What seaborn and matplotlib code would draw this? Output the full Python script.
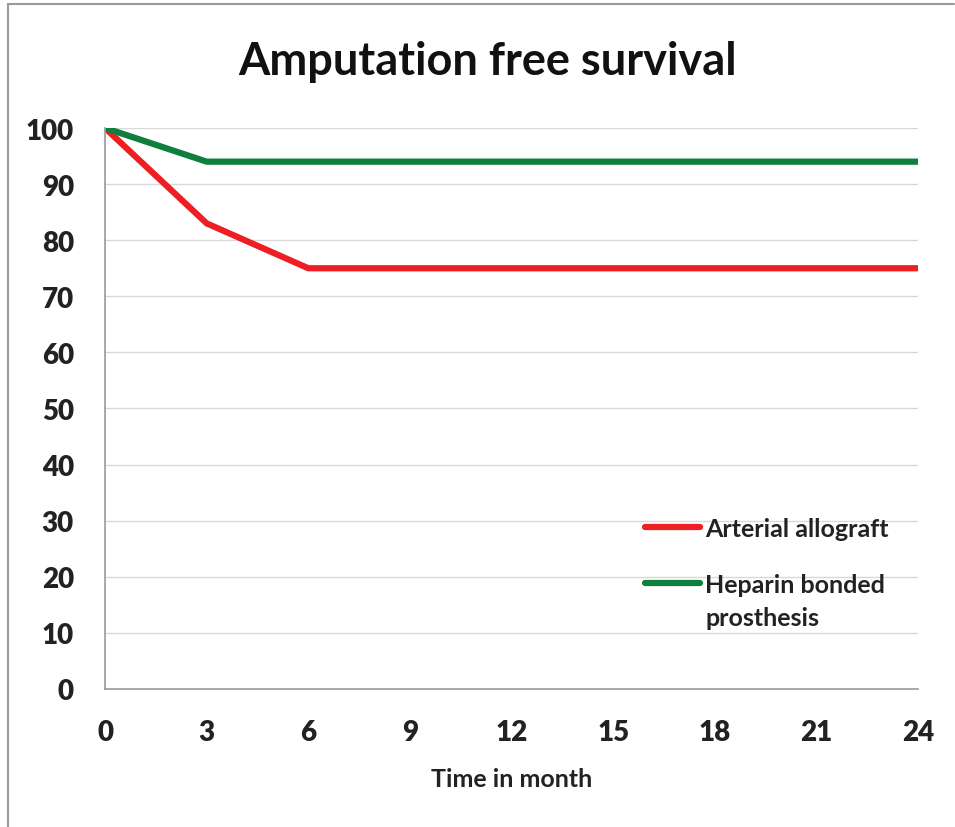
import numpy as np
import pandas as pd
import matplotlib
matplotlib.use("Agg")
import matplotlib.pyplot as plt
import seaborn as sns
from matplotlib.lines import Line2D

# data
months = [0, 3, 6, 9, 12, 15, 18, 21, 24]
allograft = [100, 83, 75, 75, 75, 75, 75, 75, 75]
heparin = [100, 94, 94, 94, 94, 94, 94, 94, 94]
series_names = ["Arterial allograft", "Heparin bonded\nprosthesis"]
colors = ["#ee1f24", "#0e7f3c"]

df = pd.DataFrame({
    "month": months * 2,
    "survival": allograft + heparin,
    "group": [series_names[0]] * len(months) + [series_names[1]] * len(months),
})

sns.set_theme(style="white")
plt.rcParams["font.family"] = ["Lato", "DejaVu Sans"]
plt.rcParams["font.weight"] = "bold"

fig = plt.figure(figsize=(9.55, 8.28), dpi=100)
ax = fig.add_axes([0.110, 0.1667, 0.8513, 0.6775])

sns.lineplot(data=df, x="month", y="survival", hue="group",
             palette=dict(zip(series_names, colors)), linewidth=4.5,
             ax=ax, legend=False)

ax.set_xlim(0, 24)
ax.set_ylim(0, 100)
ax.set_xticks(range(0, 25, 3))
ax.set_yticks(range(0, 101, 10))
ax.yaxis.grid(True, color="#d9d9d9", linewidth=1)
ax.xaxis.grid(False)
for s in ["top", "right"]:
    ax.spines[s].set_visible(False)
for s in ["left", "bottom"]:
    ax.spines[s].set_color("#9a9a9a")
    ax.spines[s].set_linewidth(1.2)
ax.tick_params(axis="both", which="major", direction="out", length=6.5, width=1.2,
               color="#9a9a9a", labelsize=20, labelcolor="#222222")
ax.tick_params(axis="y", pad=16)
ax.tick_params(axis="x", pad=15)
for lab in ax.get_xticklabels() + ax.get_yticklabels():
    lab.set_fontweight("heavy")
ax.set_xlabel("Time in month", fontsize=18, fontweight="bold", color="#222222", labelpad=16)
ax.set_ylabel("")

fig.text(0.511, 0.925, "Amputation free survival", ha="center", va="center",
         fontsize=32.5, fontweight="bold", color="#111111")

# legend drawn by hand so the handle sits on the first line of a wrapped label
leg_y = [0.289, 0.189]
text_y = [0.289, 0.170]
for name, c, y, ty in zip(series_names, colors, leg_y, text_y):
    ax.add_line(Line2D([0.664, 0.732], [y, y], color=c, linewidth=4.5,
                       solid_capstyle="round", transform=ax.transAxes))
    ax.text(0.738, ty, name, transform=ax.transAxes, ha="left", va="center_baseline",
            fontsize=18, fontweight="bold", color="#222222", linespacing=1.55)

# chart border (left and top)
fig.add_artist(Line2D([0.008, 0.008], [0.0, 0.994], color="#999999", linewidth=1.5,
                      transform=fig.transFigure))
fig.add_artist(Line2D([0.008, 0.999], [0.994, 0.994], color="#999999", linewidth=1.5,
                      transform=fig.transFigure))

fig.savefig("out.png", dpi=100)
